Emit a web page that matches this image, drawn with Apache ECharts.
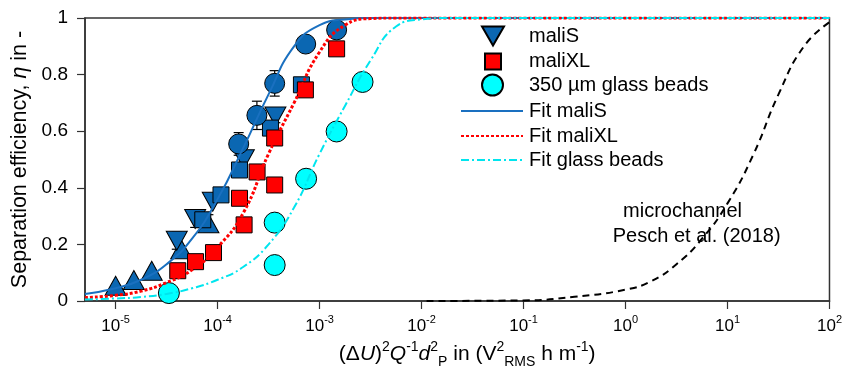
<!DOCTYPE html>
<html>
<head>
<meta charset="utf-8">
<script src="https://cdn.jsdelivr.net/npm/echarts@6/dist/echarts.min.js"></script>
<style>
  html, body { margin: 0; padding: 0; background: #fff; }
  #chart { width: 845px; height: 375px; }
</style>
</head>
<body>
<div id="chart"></div>
<script>
// x values in V²RMS h m⁻¹, y values = separation efficiency
const maliSUpX = [1.0e-5, 1.51e-5, 2.26e-5, 4.40e-5, 8.13e-5];
const maliSUpY = [0.054, 0.074, 0.107, 0.183, 0.275];
const maliSDownX = [3.98e-5, 6.03e-5, 8.97e-5, 1.81e-4, 3.69e-4];
const maliSDownY = [0.213, 0.29, 0.351, 0.501, 0.652];
const maliSSqX = [7.16e-5, 1.08e-4, 1.64e-4, 3.30e-4, 6.64e-4];
const maliSSqY = [0.287, 0.375, 0.463, 0.611, 0.764];
const maliSCircX = [1.61e-4, 2.43e-4, 3.63e-4, 7.31e-4, 1.47e-3];
const maliSCircY = [0.555, 0.656, 0.769, 0.908, 0.958];
const maliXLX = [4.07e-5, 6.08e-5, 9.12e-5, 1.64e-4, 1.82e-4, 2.44e-4, 3.63e-4, 3.63e-4, 7.26e-4, 1.47e-3];
const maliXLY = [0.107, 0.139, 0.171, 0.363, 0.269, 0.456, 0.41, 0.576, 0.746, 0.891];
const beadsX = [3.33e-5, 3.63e-4, 3.63e-4, 7.38e-4, 1.47e-3, 2.64e-3];
const beadsY = [0.028, 0.127, 0.277, 0.432, 0.599, 0.774];

// error bars (x, y, +/-)
const errX = [3.98e-5, 6.03e-5, 8.13e-5, 3.69e-4, 1.61e-4, 2.43e-4, 3.63e-4];
const errY = [0.213, 0.29, 0.275, 0.652, 0.555, 0.656, 0.769];
const errD = [0.03, 0.03, 0.03, 0.022, 0.04, 0.05, 0.045];

// fit curves
const fitX = [5.01e-6, 1e-5, 1.78e-5, 3.16e-5, 5.62e-5, 1e-4, 1.78e-4, 3.16e-4, 5.62e-4, 1e-3, 1.78e-3, 3.16e-3, 5.62e-3, 1e-2, 1.78e-2, 100];
const fitMaliS = [0.025, 0.045, 0.075, 0.13, 0.22, 0.36, 0.54, 0.73, 0.9, 0.975, 0.995, 1, 1, 1, 1, 1];
const fitMaliXL = [0.012, 0.02, 0.035, 0.065, 0.11, 0.19, 0.31, 0.52, 0.70, 0.88, 0.975, 0.998, 1, 1, 1, 1];
const fitBeads = [0.005, 0.009, 0.014, 0.025, 0.045, 0.075, 0.12, 0.2, 0.33, 0.52, 0.69, 0.85, 0.97, 0.995, 1, 1];
const microX = [1.12e-2, 0.1, 0.316, 1, 1.78, 3.16, 5.62, 10, 17.8, 31.6, 56.2, 100];
const microY = [0, 0.002, 0.015, 0.04, 0.07, 0.13, 0.22, 0.345, 0.515, 0.73, 0.9, 0.985];

const xTickExp = [-5, -4, -3, -2, -1, 0, 1, 2];

const FONT = '"Liberation Sans", Arial, sans-serif';
const BLUE = '#0b67b2';
const lg = Math.log10;
const pts = (xs, ys) => xs.map((x, i) => [lg(x), ys[i]]);

const chart = echarts.init(document.getElementById('chart'), null, { renderer: 'canvas' });

const markerBorder = { borderColor: '#000', borderWidth: 1 };

function legendFor(item, left, top, w, h, pad, extra) {
  return Object.assign({
    data: [item],
    left: left, top: top,
    padding: 0,
    itemWidth: w, itemHeight: h,
    selectedMode: false,
    textStyle: { fontFamily: FONT, fontSize: 20, color: '#000', padding: [0, 0, 0, pad] }
  }, extra || {});
}

// hides the dot ECharts puts on line legend icons
const lineLegend = { itemStyle: { opacity: 0 } };

const option = {
  animation: false,
  backgroundColor: '#fff',
  grid: {
    left: 85, right: 14, top: 18, bottom: 74,
    show: true, borderColor: '#333', borderWidth: 1.5, backgroundColor: 'transparent'
  },
  legend: [
    legendFor({ name: 'maliS', icon: 'path://M0,0 L22,0 L11,19 Z' }, 481, 25.5, 22, 19, 20),
    legendFor('maliXL', 484, 51.5, 16, 16, 23),
    legendFor('350 µm glass beads', 481, 73.5, 21, 21, 21),
    legendFor('Fit maliS', 460, 101, 62, 14, 1, lineLegend),
    legendFor('Fit maliXL', 460, 126, 62, 14, 1, lineLegend),
    legendFor('Fit glass beads', 460, 150, 62, 14, 1, lineLegend)
  ],
  xAxis: {
    type: 'value',
    min: -5.3, max: 2,
    splitLine: { show: false },
    axisLine: { onZero: false, lineStyle: { color: '#333', width: 1.5 } },
    axisTick: { customValues: xTickExp, length: 8, lineStyle: { color: '#333', width: 1.2 } },
    axisLabel: {
      customValues: xTickExp,
      margin: 13,
      formatter: v => '{b|10}{s|' + v + '}',
      rich: {
        b: { fontFamily: FONT, fontSize: 17, lineHeight: 24, color: '#000' },
        s: { fontFamily: FONT, fontSize: 11, lineHeight: 11, verticalAlign: 'top', color: '#000' }
      }
    },
    name: '{n|(Δ}{i|U}{n|)}{p|2}{i|Q}{p|-1}{i|d}{p|2}{q|P}{n| in (V}{p|2}{q|RMS}{n| h m}{p|-1}{n|)}',
    nameLocation: 'middle',
    nameGap: 39,
    nameTextStyle: {
      padding: [0, 0, 0, 20],
      rich: {
        n: { fontFamily: FONT, fontSize: 21, lineHeight: 29, color: '#000' },
        i: { fontFamily: FONT, fontSize: 21, lineHeight: 29, fontStyle: 'italic', color: '#000' },
        p: { fontFamily: FONT, fontSize: 14, lineHeight: 14, verticalAlign: 'top', color: '#000' },
        q: { fontFamily: FONT, fontSize: 14, lineHeight: 14, verticalAlign: 'bottom', color: '#000' }
      }
    }
  },
  yAxis: {
    type: 'value',
    min: 0, max: 1, interval: 0.2,
    splitLine: { show: false },
    axisLine: { show: true, onZero: false, lineStyle: { color: '#333', width: 1.5 } },
    axisTick: { show: true, length: 8, lineStyle: { color: '#333', width: 1.2 } },
    axisLabel: { margin: 17, fontFamily: FONT, fontSize: 19, color: '#000' },
    name: '{n|Separation efficiency, }{i|η}{n| in -}',
    nameLocation: 'middle',
    nameGap: 47,
    nameTextStyle: {
      rich: {
        n: { fontFamily: FONT, fontSize: 21.5, color: '#000' },
        i: { fontFamily: FONT, fontSize: 21.5, fontStyle: 'italic', color: '#000' }
      }
    }
  },
  graphic: [
    { type: 'text', x: 682.5, y: 211.7, z: 1, style: { text: 'microchannel', font: '20px "Liberation Sans", Arial, sans-serif', fill: '#000', align: 'center', verticalAlign: 'middle' } },
    { type: 'text', x: 696.7, y: 236.7, z: 1, style: { text: 'Pesch et al. (2018)', font: '20px "Liberation Sans", Arial, sans-serif', fill: '#000', align: 'center', verticalAlign: 'middle' } }
  ],
  series: [
    {
      name: 'errors', type: 'custom', z: 2,
      data: errX.map((x, i) => [lg(x), errY[i], errD[i]]),
      encode: { x: 0, y: 1 },
      renderItem: (params, api) => {
        const x = api.value(0), y = api.value(1), d = api.value(2);
        const top = api.coord([x, y + d]);
        const bot = api.coord([x, y - d]);
        const hw = 5;
        const st = { stroke: '#000', lineWidth: 1.2 };
        return {
          type: 'group',
          children: [
            { type: 'line', shape: { x1: top[0], y1: top[1], x2: bot[0], y2: bot[1] }, style: st },
            { type: 'line', shape: { x1: top[0] - hw, y1: top[1], x2: top[0] + hw, y2: top[1] }, style: st },
            { type: 'line', shape: { x1: bot[0] - hw, y1: bot[1], x2: bot[0] + hw, y2: bot[1] }, style: st }
          ]
        };
      }
    },
    {
      name: 'maliS up', type: 'scatter', z: 3,
      symbol: 'triangle', symbolSize: [21, 19],
      itemStyle: Object.assign({ color: BLUE, opacity: 1 }, markerBorder),
      data: pts(maliSUpX, maliSUpY)
    },
    {
      name: 'maliS', type: 'scatter', z: 3,
      symbol: 'triangle', symbolRotate: 180, symbolSize: [21, 19],
      itemStyle: Object.assign({ color: BLUE, opacity: 1 }, markerBorder),
      data: pts(maliSDownX, maliSDownY)
    },
    {
      name: 'maliS square', type: 'scatter', z: 3,
      symbol: 'rect', symbolSize: 16,
      itemStyle: Object.assign({ color: BLUE, opacity: 1 }, markerBorder),
      data: pts(maliSSqX, maliSSqY)
    },
    {
      name: 'maliS circle', type: 'scatter', z: 3,
      symbol: 'circle', symbolSize: 20,
      itemStyle: Object.assign({ color: BLUE, opacity: 1 }, markerBorder),
      data: pts(maliSCircX, maliSCircY)
    },
    {
      name: 'maliXL', type: 'scatter', z: 3,
      symbol: 'rect', symbolSize: 16,
      itemStyle: Object.assign({ color: '#ff0000', opacity: 1 }, markerBorder),
      data: pts(maliXLX, maliXLY)
    },
    {
      name: '350 µm glass beads', type: 'scatter', z: 3,
      symbol: 'circle', symbolSize: 21,
      itemStyle: Object.assign({ color: '#00ffff', opacity: 1 }, markerBorder),
      data: pts(beadsX, beadsY)
    },
    {
      name: 'Fit maliS', type: 'line', z: 4, symbol: 'none',
      smooth: 0.5,
      lineStyle: { color: '#1a70c0', width: 2, type: 'solid' },
      itemStyle: { color: '#1a70c0' },
      data: pts(fitX, fitMaliS)
    },
    {
      name: 'Fit maliXL', type: 'line', z: 4, symbol: 'none',
      smooth: 0.5,
      lineStyle: { color: '#ff0000', width: 3, type: [3, 2] },
      itemStyle: { color: '#ff0000' },
      data: pts(fitX, fitMaliXL)
    },
    {
      name: 'Fit glass beads', type: 'line', z: 4, symbol: 'none',
      smooth: 0.5,
      lineStyle: { color: '#00e5ee', width: 2, type: [8, 3, 2, 3] },
      itemStyle: { color: '#00e5ee' },
      data: pts(fitX, fitBeads)
    },
    {
      name: 'microchannel', type: 'line', z: 4, symbol: 'none',
      smooth: 0.5,
      lineStyle: { color: '#000', width: 2, type: [7, 5] },
      data: pts(microX, microY)
    }
  ]
};

chart.setOption(option);
</script>
</body>
</html>
